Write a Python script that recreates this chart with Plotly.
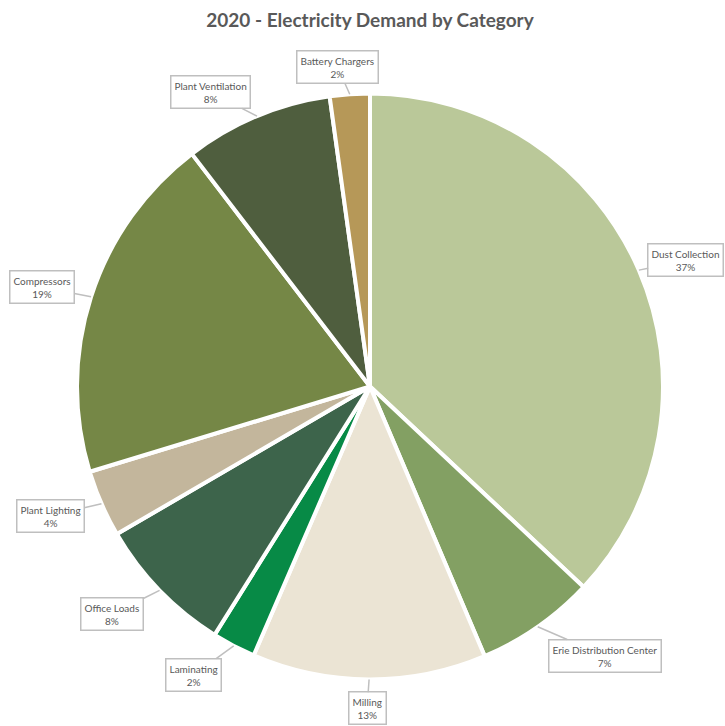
import math
import plotly.graph_objects as go

categories = ["Dust Collection", "Erie Distribution Center", "Milling", "Laminating",
              "Office Loads", "Plant Lighting", "Compressors", "Plant Ventilation",
              "Battery Chargers"]
shares = [37.0, 6.6, 12.9, 2.4, 7.7, 3.7, 19.3, 8.2, 2.2]
colors = ["#BAC899", "#83A063", "#EBE4D4", "#078A46", "#3D644B",
          "#C3B69C", "#758746", "#4F5E3E", "#B69858"]
# label box offsets (pixels) from slice edge
label_offsets = [(47, -10), (67, 29), (-2, 29), (-40, 29), (-48, 24),
                 (-51, 12), (-49, -10), (-47, -24), (-12, -27)]

W, H = 725, 726
CX, CY, R = 370, 386.5, 293
dom_x = [(CX - R) / W, (CX + R) / W]
dom_y = [1 - (CY + R) / H, 1 - (CY - R) / H]
cxp = sum(dom_x) / 2
cyp = sum(dom_y) / 2

fig = go.Figure(go.Pie(
    labels=categories, values=shares, sort=False, direction="clockwise",
    rotation=0, textinfo="none", hoverinfo="label+percent",
    marker=dict(colors=colors, line=dict(color="white", width=4)),
    domain=dict(x=dom_x, y=dom_y), showlegend=False,
))

total = sum(shares)
cum = 0
annotations = []
for name, v, (ax, ay) in zip(categories, shares, label_offsets):
    mid = (cum + v / 2) / total * 2 * math.pi
    cum += v
    tx = cxp + R * math.sin(mid) / W
    ty = cyp + R * math.cos(mid) / H
    pct = round(v / total * 100)
    annotations.append(dict(
        x=tx, y=ty, xref="paper", yref="paper",
        text=f"{name}<br>{pct}%", showarrow=True, arrowhead=0,
        arrowcolor="#BFBFBF", arrowwidth=1.5, ax=ax, ay=ay,
        bordercolor="#BFBFBF", borderwidth=1.5, borderpad=3, bgcolor="white",
        font=dict(family="Lato, Open Sans, sans-serif", size=10, color="#595959"),
        align="center",
    ))

fig.update_layout(
    width=W, height=H,
    margin=dict(l=0, r=0, t=0, b=0),
    paper_bgcolor="white",
    title=dict(text="<b>2020 - Electricity Demand by Category</b>",
               x=370 / W, xanchor="center", y=1 - 20 / H, yanchor="middle",
               font=dict(family="Lato, Open Sans, sans-serif", size=19, color="#595959")),
    annotations=annotations,
)

fig.write_html("out.html", config={"displayModeBar": False},
               post_script="document.body.style.margin='0';document.body.style.overflow='hidden';")
